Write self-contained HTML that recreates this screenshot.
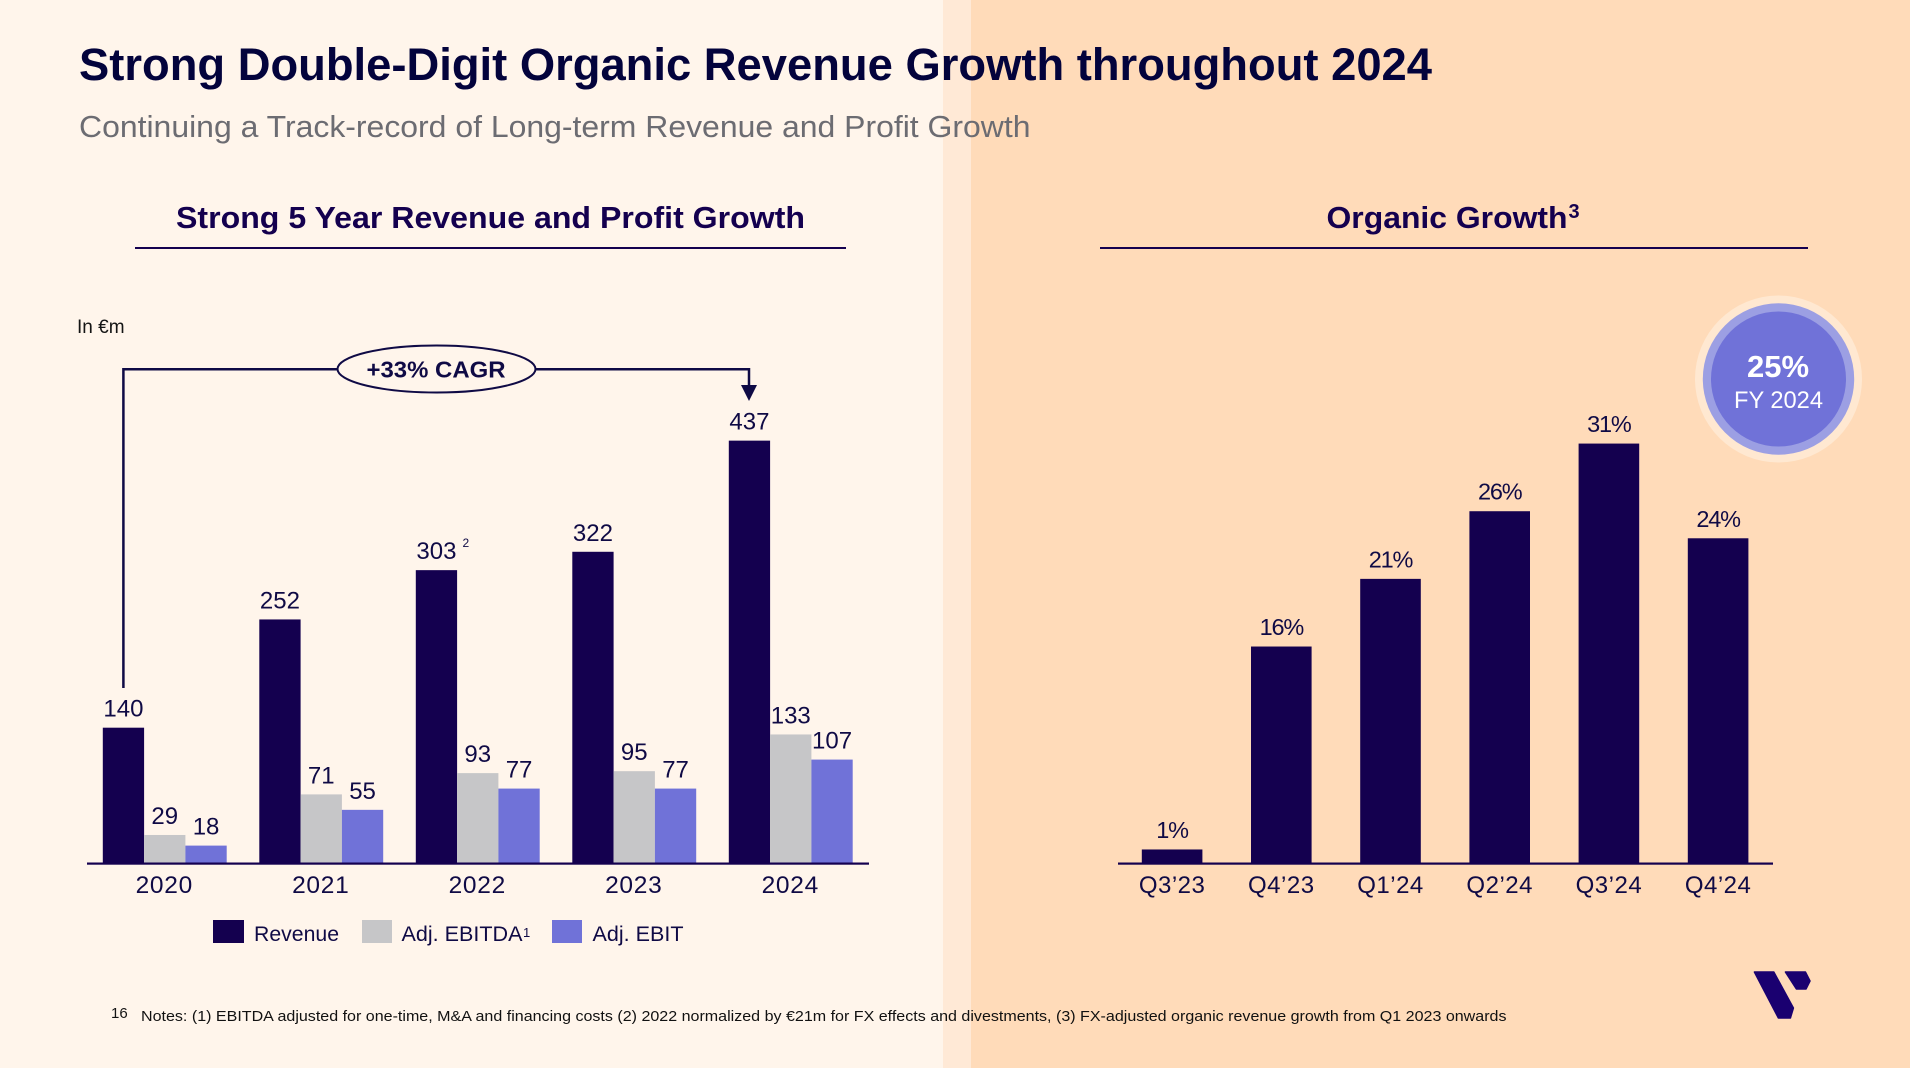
<!DOCTYPE html>
<html lang="en">
<head>
<meta charset="utf-8">
<title>Strong Double-Digit Organic Revenue Growth throughout 2024</title>
<style>
html,body{margin:0;padding:0;width:1910px;height:1068px;overflow:hidden;background:#fff5eb}
svg{display:block;position:absolute;left:0;top:0}
text{font-family:"Liberation Sans",sans-serif}
</style>
</head>
<body>
<svg id="slide-svg" width="1910" height="1068" viewBox="0 0 1910 1068" xmlns="http://www.w3.org/2000/svg">
  <rect x="0" y="0" width="1910" height="1068" fill="#fff5eb"/>
  <rect x="943" y="0" width="28" height="1068" fill="#ffe9d6"/>
  <rect x="971" y="0" width="939" height="1068" fill="#ffdbb9"/>

  <text x="79" y="80" font-size="45" font-weight="700" fill="#03033c" textLength="1353" lengthAdjust="spacingAndGlyphs">Strong Double-Digit Organic Revenue Growth throughout 2024</text>
  <text x="79" y="137" font-size="31" fill="#6c6c72" textLength="951.5" lengthAdjust="spacingAndGlyphs">Continuing a Track-record of Long-term Revenue and Profit Growth</text>

  <text x="176" y="228" font-size="31" font-weight="700" fill="#14004f" textLength="629" lengthAdjust="spacingAndGlyphs">Strong 5 Year Revenue and Profit Growth</text>
  <rect x="135" y="247" width="711" height="2" fill="#14004f"/>
  <text x="1326.5" y="228" font-size="31" font-weight="700" fill="#14004f" textLength="241" lengthAdjust="spacingAndGlyphs">Organic Growth</text>
  <text x="1568.5" y="218" font-size="20" font-weight="700" fill="#14004f">3</text>
  <rect x="1100" y="247" width="708" height="2" fill="#14004f"/>

  <text x="77" y="333" font-size="19" fill="#141414">In €m</text>

  <g>
    <path d="M123.4 688V369.3H749V388" fill="none" stroke="#0f0a45" stroke-width="2.5"/>
    <polygon points="741,385 757,385 749,401" fill="#0f0a45"/>
    <ellipse cx="436.5" cy="369" rx="99" ry="23.5" fill="#fff5eb" stroke="#0f0a45" stroke-width="2"/>
    <text x="436" y="377.5" font-size="23" font-weight="700" fill="#0f0a45" text-anchor="middle" textLength="139" lengthAdjust="spacingAndGlyphs">+33% CAGR</text>
  </g>

  <g id="left-chart"></g>
  <text id="note-303" x="462.5" y="547" font-size="12" fill="#0f0a45">2</text>

  <g>
    <rect x="213" y="920" width="31" height="23" fill="#14004f"/>
    <text x="254" y="941" font-size="21" fill="#0f0a45" textLength="85" lengthAdjust="spacingAndGlyphs">Revenue</text>
    <rect x="362" y="920" width="30" height="23" fill="#c6c6c8"/>
    <text x="401.5" y="941" font-size="21" fill="#0f0a45" textLength="121" lengthAdjust="spacingAndGlyphs">Adj. EBITDA</text>
    <text x="523" y="937" font-size="13" fill="#0f0a45">1</text>
    <rect x="552" y="920" width="30" height="23" fill="#7072d8"/>
    <text x="592.5" y="941" font-size="21" fill="#0f0a45" textLength="91" lengthAdjust="spacingAndGlyphs">Adj. EBIT</text>
  </g>

  <g id="right-chart"></g>

  <g>
    <circle cx="1778.5" cy="379" r="83.5" fill="#ffe8d1"/>
    <circle cx="1778.5" cy="379" r="75.7" fill="#9c9fe3"/>
    <circle cx="1778.5" cy="379" r="67.5" fill="#7072d8"/>
    <text x="1778" y="377" font-size="31" font-weight="700" fill="#ffffff" text-anchor="middle">25%</text>
    <text x="1778.5" y="408" font-size="24" fill="#ffffff" text-anchor="middle" textLength="89" lengthAdjust="spacingAndGlyphs">FY 2024</text>
  </g>

  <text x="111" y="1018" font-size="15" fill="#141414">16</text>
  <text x="141" y="1021" font-size="15" fill="#111111" textLength="1365.5" lengthAdjust="spacingAndGlyphs">Notes: (1) EBITDA adjusted for one-time, M&amp;A and financing costs (2) 2022 normalized by €21m for FX effects and divestments, (3) FX-adjusted organic revenue growth from Q1 2023 onwards</text>

  <g fill="#1a0070" stroke="#1a0070" stroke-width="1.5" stroke-linejoin="round">
    <polygon points="1754.4,972 1773.8,972 1793.4,1008 1790.4,1018 1778.4,1018"/>
    <polygon points="1785.4,972 1805.4,972 1810,981 1806,989 1796.4,989"/>
  </g>
</svg>
<script>
const years = ['2020', '2021', '2022', '2023', '2024'];
const revenue = [140, 252, 303, 322, 437];
const adjEbitda = [29, 71, 93, 95, 133];
const adjEbit = [18, 55, 77, 77, 107];
const quarters = ['Q3\u201923', 'Q4\u201923', 'Q1\u201924', 'Q2\u201924', 'Q3\u201924', 'Q4\u201924'];
const organicGrowth = [1, 16, 21, 26, 31, 24];

const SVG_NS = 'http://www.w3.org/2000/svg';

function make(parent, tag, attrs, content) {
  const el = document.createElementNS(SVG_NS, tag);
  Object.keys(attrs).forEach(function (key) { el.setAttribute(key, attrs[key]); });
  if (content !== undefined) { el.textContent = content; }
  parent.appendChild(el);
  return el;
}

/* Left chart axes */
const leftBase = 863;
const leftUnit = 0.9665;
const leftStart = 102.8;
const leftPitch = 156.5;
const leftBarW = 41.3;
function leftY(value) { return leftBase - value * leftUnit; }
function leftX(groupIndex, seriesIndex) { return leftStart + groupIndex * leftPitch + seriesIndex * leftBarW; }

const leftChart = document.getElementById('left-chart');
const leftSeries = [
  { key: 'revenue', values: revenue, color: '#14004f' },
  { key: 'ebitda', values: adjEbitda, color: '#c6c6c8' },
  { key: 'ebit', values: adjEbit, color: '#7072d8' }
];

leftSeries.forEach(function (series, s) {
  series.values.forEach(function (value, i) {
    const bar = make(leftChart, 'rect', {
      x: leftX(i, s), y: leftY(value), width: leftBarW, height: leftBase - leftY(value), fill: series.color
    });
    
    
    const label = make(leftChart, 'text', {
      x: leftX(i, s) + leftBarW / 2, y: leftY(value) - 11, 'font-size': 24, fill: '#0f0a45', 'text-anchor': 'middle'
    }, String(value));
    
    
  });
});

years.forEach(function (year, i) {
  const tick = make(leftChart, 'text', {
    x: leftX(i, 1) + leftBarW / 2 - 0.5, y: 893, 'font-size': 24.5, 'letter-spacing': 0.7, fill: '#0f0a45', 'text-anchor': 'middle'
  }, year);
  
  
});

const leftAxis = make(leftChart, 'rect', { x: 87, y: 862.5, width: 782, height: 2.2, fill: '#14004f' });



const marker = document.getElementById('note-303');
marker.setAttribute('y', leftY(revenue[2]) - 23);

/* Right chart axes */
const rightBase = 863;
const rightUnit = 13.53;
const rightStart = 1141.8;
const rightPitch = 109.2;
const rightBarW = 60.6;
function rightY(value) { return rightBase - value * rightUnit; }
function rightX(i) { return rightStart + i * rightPitch; }

const rightChart = document.getElementById('right-chart');
organicGrowth.forEach(function (value, i) {
  const bar = make(rightChart, 'rect', {
    x: rightX(i), y: rightY(value), width: rightBarW, height: rightBase - rightY(value), fill: '#14004f'
  });
  
  
  const label = make(rightChart, 'text', {
    x: rightX(i) + rightBarW / 2, y: rightY(value) - 11.5, 'font-size': 23.5, 'letter-spacing': -1.2, fill: '#0f0a45', 'text-anchor': 'middle'
  }, value + '%');
  
  
  const tick = make(rightChart, 'text', {
    x: rightX(i) + rightBarW / 2, y: 893, 'font-size': 24, 'letter-spacing': 0.5, fill: '#0f0a45', 'text-anchor': 'middle'
  }, quarters[i]);
  
  
});

const rightAxis = make(rightChart, 'rect', { x: 1118, y: 862.5, width: 655, height: 2.2, fill: '#14004f' });


</script>
</body>
</html>
